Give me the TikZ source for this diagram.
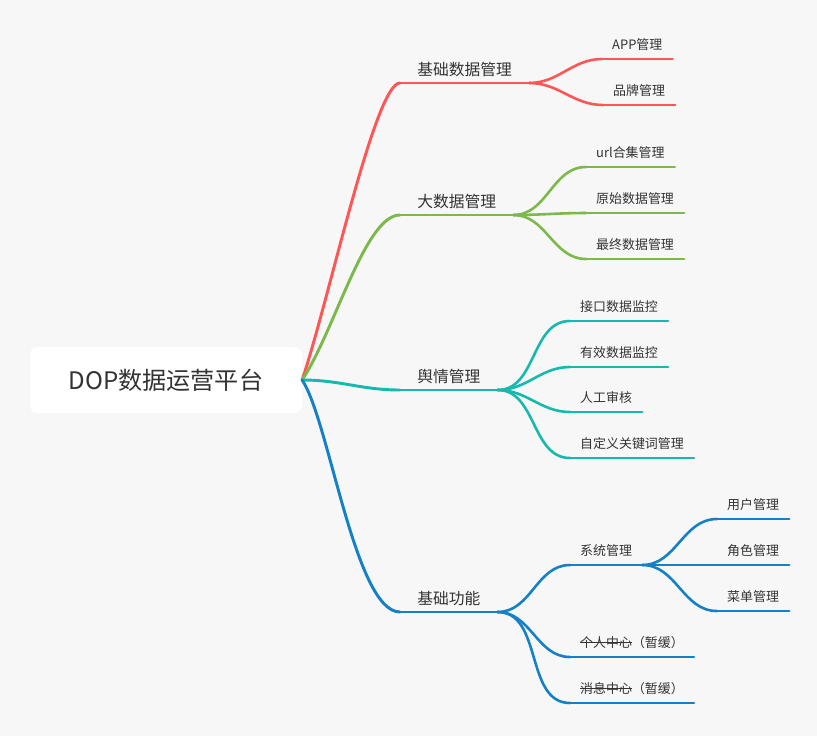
\documentclass[tikz,border=0pt]{standalone}
\usepackage{fontspec}
\setmainfont{Noto Sans CJK SC}
\usepackage{xcolor}
\usepackage{tikz}
\usetikzlibrary{positioning,calc}

\definecolor{bgcol}{HTML}{F7F7F7}
\definecolor{txt}{HTML}{333333}
\definecolor{cred}{HTML}{FC5656}
\definecolor{cgreen}{HTML}{7DB94A}
\definecolor{cteal}{HTML}{17B9AE}
\definecolor{cblue}{HTML}{1580C6}

\newlength\strklen
\newcommand\strk[1]{\settowidth\strklen{#1}\rlap{\rule[0.36em]{\strklen}{0.8pt}}#1}

\tikzset{
  root/.style={fill=white, rounded corners=6pt, minimum width=231pt, minimum height=56pt,
    font=\fontsize{20.5}{24}\selectfont, text=txt},
  topic/.style={anchor=south west, inner xsep=14.5pt, inner ysep=4.1pt, text height=0.8em,
    text depth=0.2em, font=\fontsize{13.4}{16}\selectfont, text=txt},
  sub/.style={anchor=south west, inner xsep=8.5pt, inner ysep=5.5pt, text height=0.8em,
    text depth=0.2em, font=\fontsize{11}{13}\selectfont, text=txt},
  branch/.style={line width=2.5pt, line cap=round},
  twig/.style={line width=2.2pt, line cap=round},
}

\begin{document}
\begin{tikzpicture}[x=0.85pt, y=-0.85pt]

% Background
\fill[bgcol] (0,0) rectangle (817,736);

% Central topic
\node[root] (root) at (166,380) {DOP数据运营平台};

% Main topics
\node[topic] (base) at (400,83) {基础数据管理};
\node[topic] (big) at (400,215) {大数据管理};
\node[topic] (opinion) at (400,390) {舆情管理};
\node[topic] (func) at (400,612) {基础功能};

% Sub topics
\node[sub] (app) at (602,59) {APP管理};
\node[sub] (brand) at (603,105) {品牌管理};
\node[sub] (url) at (586,167) {url合集管理};
\node[sub] (raw) at (586,213) {原始数据管理};
\node[sub] (final) at (586,259) {最终数据管理};
\node[sub] (api) at (570,321) {接口数据监控};
\node[sub] (valid) at (570,367) {有效数据监控};
\node[sub] (audit) at (570,412) {人工审核};
\node[sub] (keyword) at (570,458) {自定义关键词管理};
\node[sub] (sys) at (570,565) {系统管理};
\node[sub] (personal) at (570,657) {\strk{个人中心}（暂缓）};
\node[sub] (msg) at (570,703) {\strk{消息中心}（暂缓）};
\node[sub] (user) at (717,519) {用户管理};
\node[sub] (role) at (717,565) {角色管理};
\node[sub] (menu) at (717,611) {菜单管理};

% Root to main topics
\draw[branch, cred] (root.east) .. controls +(27,-80) and +(-25,0) .. (base.south west);
\draw[branch, cgreen] (root.east) .. controls +(33,-50) and +(-35,0) .. (big.south west);
\draw[branch, cteal] (root.east) to[out=0, in=180] (opinion.south west);
\draw[branch, cblue] (root.east) .. controls +(27,40) and +(-45,0) .. (func.south west);

% Underlines
\foreach \n/\c in {base/cred, big/cgreen, opinion/cteal, func/cblue}
  \draw[branch, \c] (\n.south west) -- (\n.south east);
\foreach \n/\c in {app/cred, brand/cred, url/cgreen, raw/cgreen, final/cgreen,
    api/cteal, valid/cteal, audit/cteal, keyword/cteal, sys/cblue, personal/cblue,
    msg/cblue, user/cblue, role/cblue, menu/cblue}
  \draw[twig, \c] (\n.south west) -- (\n.south east);

% Main topics to sub topics
\foreach \p/\n/\c in {base/app/cred, base/brand/cred, big/url/cgreen, big/raw/cgreen,
    big/final/cgreen, opinion/api/cteal, opinion/valid/cteal, opinion/audit/cteal,
    opinion/keyword/cteal, func/sys/cblue, func/personal/cblue, func/msg/cblue,
    sys/user/cblue, sys/role/cblue, sys/menu/cblue}
  \draw[twig, \c] (\p.south east) to[out=0, in=180] (\n.south west);

\end{tikzpicture}
\end{document}
